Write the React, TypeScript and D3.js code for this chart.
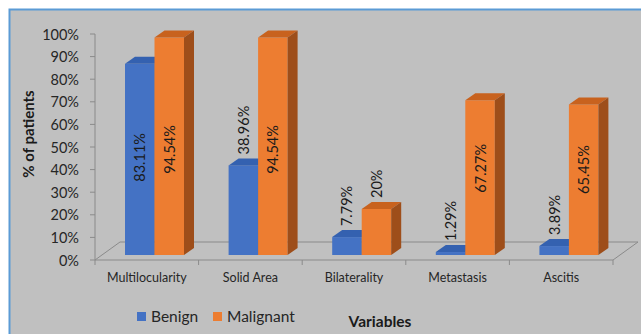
import React from "react";
import * as d3 from "d3";

const categories = ["Multilocularity", "Solid Area", "Bilaterality", "Metastasis", "Ascitis"];
const seriesNames = ["Benign", "Malignant"];
const benign = [83.11, 38.96, 7.79, 1.29, 3.89];
const malignant = [94.54, 94.54, 20, 67.27, 65.45];
const valueLabels = [
  ["83.11%", "38.96%", "7.79%", "1.29%", "3.89%"],
  ["94.54%", "94.54%", "20%", "67.27%", "65.45%"],
];
const yTicks = [0, 10, 20, 30, 40, 50, 60, 70, 80, 90, 100];

const W = 641;
const H = 334;
const FONT = "Lato, 'Open Sans', sans-serif";

const palette = {
  Benign: { front: "#4472C4", top: "#3461B0", side: "#2E5496" },
  Malignant: { front: "#ED7D31", top: "#C8621E", side: "#9E4E1A" },
};

export default function App() {
  // front plane of the floor and the value axis
  const floorLeft = 95;
  const floorRight = 613;
  const floorY = 260;
  const depthX = 25;
  const depthY = 18;

  const yAxis = d3.scaleLinear().domain([0, 100]).range([260, 34]);
  // bars sit in a plane set back into the floor
  const yBar = d3.scaleLinear().domain([0, 100]).range([255, 25]);

  const xCat = d3.scaleBand<string>().domain(categories).range([floorLeft, floorRight]);
  const pairWidth = 59;
  const planeShift = 7.7;
  const xSeries = d3.scaleBand<string>().domain(seriesNames).range([0, pairWidth]);
  const barDX = 10;
  const barDY = 7;

  const seriesValues = [benign, malignant];

  const bars: React.ReactNode[] = [];
  const labels: React.ReactNode[] = [];
  categories.forEach((cat, ci) => {
    const gx = (xCat(cat) as number) + (xCat.bandwidth() - pairWidth) / 2 + planeShift;
    seriesNames.forEach((s, si) => {
      const v = seriesValues[si][ci];
      const x = gx + (xSeries(s) as number);
      const w = xSeries.bandwidth();
      const y0 = yBar(0);
      const yt = yBar(v);
      const c = palette[s as "Benign" | "Malignant"];
      bars.push(
        <g key={`${cat}-${s}`}>
          <rect x={x} y={yt} width={w} height={y0 - yt} fill={c.front} />
          <path
            d={`M${x},${yt}L${x + barDX},${yt - barDY}L${x + w + barDX},${yt - barDY}L${x + w},${yt}Z`}
            fill={c.top}
          />
          <path
            d={`M${x + w},${yt}L${x + w + barDX},${yt - barDY}L${x + w + barDX},${y0 - barDY}L${x + w},${y0}Z`}
            fill={c.side}
          />
        </g>
      );
      const cx = x + w / 2;
      const inside = v >= 50;
      const ly = inside ? yBar(0.3 * v + 17.5) : yt - 11;
      labels.push(
        <text
          key={`lbl-${cat}-${s}`}
          transform={`translate(${cx},${ly}) rotate(-90)`}
          textAnchor={inside ? "middle" : "start"}
          dominantBaseline="central"
          fontSize={14.5}
          fontFamily={FONT}
          fill="#1a1a1a"
        >
          {valueLabels[si][ci]}
        </text>
      );
    });
  });

  const floorColor = "#8a8a8a";

  return (
    <svg
      width={W}
      height={H}
      style={{ position: "absolute", left: 0, top: 0 }}
      xmlns="http://www.w3.org/2000/svg"
    >
      <rect x={0} y={0} width={W} height={H} fill="#ffffff" />
      <rect x={9.5} y={9.5} width={W} height={H} fill="#C0C0C0" stroke="#5B9BD5" strokeWidth={2} />

      {/* floor */}
      <path
        d={`M${floorLeft},${floorY}L${floorLeft + depthX},${floorY - depthY}L${floorRight + depthX},${floorY - depthY}L${floorRight},${floorY}`}
        fill="none"
        stroke={floorColor}
        strokeWidth={1}
      />
      <line x1={floorLeft} x2={floorRight} y1={floorY} y2={floorY} stroke={floorColor} strokeWidth={1} />

      {/* category ticks */}
      {d3.range(categories.length + 1).map((k) => {
        const x = floorLeft + k * xCat.bandwidth();
        return <line key={`ct${k}`} x1={x} x2={x} y1={floorY} y2={floorY + 5} stroke={floorColor} />;
      })}

      {/* value axis */}
      <line x1={floorLeft} x2={floorLeft} y1={yAxis(100)} y2={yAxis(0)} stroke={floorColor} />
      {yTicks.map((t) => (
        <g key={`yt${t}`}>
          <line x1={floorLeft - 5} x2={floorLeft} y1={yAxis(t)} y2={yAxis(t)} stroke={floorColor} />
          <text
            x={79}
            y={yAxis(t)}
            textAnchor="end"
            dominantBaseline="central"
            fontSize={14.5}
            fontFamily={FONT}
            fill="#262626"
          >
            {`${t}%`}
          </text>
        </g>
      ))}

      {bars}
      {labels}

      {categories.map((cat) => (
        <text
          key={`cl-${cat}`}
          x={(xCat(cat) as number) + xCat.bandwidth() / 2}
          y={282}
          textAnchor="middle"
          fontSize={12.5}
          fontFamily={FONT}
          fill="#262626"
        >
          {cat}
        </text>
      ))}

      <text
        transform={`translate(28,134) rotate(-90)`}
        textAnchor="middle"
        dominantBaseline="central"
        fontSize={15}
        fontWeight="bold"
        fontFamily={FONT}
        fill="#1a1a1a"
      >
        % of patients
      </text>

      <text x={380} y={327} textAnchor="middle" fontSize={15.5} fontWeight="bold" fontFamily={FONT} fill="#1a1a1a">
        Variables
      </text>

      {/* legend */}
      {seriesNames.map((s, i) => {
        const lx = [137, 213][i];
        return (
          <g key={`lg-${s}`}>
            <rect x={lx} y={312} width={9} height={9} fill={palette[s as "Benign" | "Malignant"].front} />
            <text x={lx + 14} y={321.5} fontSize={15.5} fontFamily={FONT} fill="#262626">
              {s}
            </text>
          </g>
        );
      })}
    </svg>
  );
}
